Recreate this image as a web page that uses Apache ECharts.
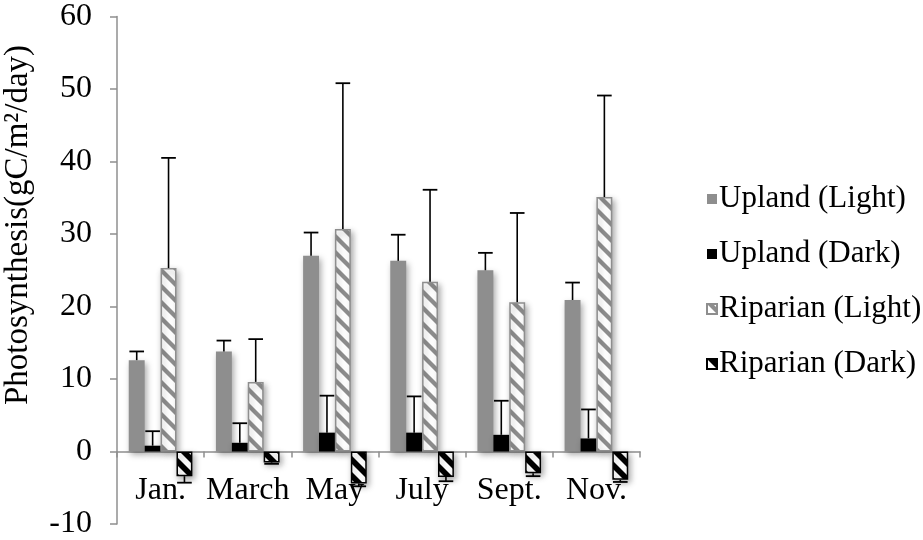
<!DOCTYPE html>
<html>
<head>
<meta charset="utf-8">
<title>Photosynthesis by month</title>
<script src="https://cdn.jsdelivr.net/npm/echarts@6/dist/echarts.min.js"></script>
<style>
  html, body { margin: 0; padding: 0; background: #fff; }
  #chart { width: 923px; height: 540px; }
</style>
</head>
<body>
<div id="chart"></div>
<script>
// Monthly photosynthesis (gC/m²/day), mean values and standard deviations
const categories = ['Jan.', 'March', 'May', 'July', 'Sept.', 'Nov.'];
const seriesNames = ['Upland (Light)', 'Upland (Dark)', 'Riparian (Light)', 'Riparian (Dark)'];

const uplandLight = [12.6, 13.8, 27.0, 26.3, 25.0, 20.9];
const uplandLightErr = [1.2, 1.5, 3.2, 3.6, 2.4, 2.4];

const uplandDark = [0.8, 1.2, 2.6, 2.6, 2.3, 1.8];
const uplandDarkErr = [2.0, 2.7, 5.1, 5.0, 4.7, 4.0];

const riparianLight = [25.3, 9.6, 30.7, 23.4, 20.6, 35.1];
const riparianLightErr = [15.2, 5.9, 20.1, 12.7, 12.3, 14.0];

const riparianDark = [-3.4, -1.5, -4.4, -3.5, -3.0, -3.9];
const riparianDarkErr = [0.9, 0.2, 0.4, 0.6, 0.4, 0.3];

const yTicks = [-10, 0, 10, 20, 30, 40, 50, 60];

const FONT = 'Liberation Serif, Times New Roman, serif';
const FONT_SIZE = 32;
const AXIS_GREY = '#8f8f8f';
const BAR_GAP_RATIO = 0.27;

// Diagonal "\" stripe tile used as a fill pattern
function stripePattern(color, bandWidth) {
  const size = 16;
  const c = document.createElement('canvas');
  c.width = size; c.height = size;
  const ctx = c.getContext('2d');
  ctx.fillStyle = '#ffffff';
  ctx.fillRect(0, 0, size, size);
  ctx.fillStyle = color;
  for (let k = -2; k <= 1; k++) {
    const x0 = k * size;
    ctx.beginPath();
    ctx.moveTo(x0, 0);
    ctx.lineTo(x0 + bandWidth, 0);
    ctx.lineTo(x0 + bandWidth + size, size);
    ctx.lineTo(x0 + size, size);
    ctx.closePath();
    ctx.fill();
  }
  return { image: c, repeat: 'repeat' };
}

const shadow = {
  shadowBlur: 6,
  shadowColor: 'rgba(0,0,0,0.35)',
  shadowOffsetX: 2,
  shadowOffsetY: 3
};

const styles = [
  Object.assign({ color: '#8e8e8e' }, shadow),
  Object.assign({ color: '#000000' }, shadow),
  Object.assign({ color: stripePattern('#8e8e8e', 6), borderColor: '#8e8e8e', borderWidth: 1.5 }, shadow),
  Object.assign({ color: stripePattern('#000000', 8), borderColor: '#000000', borderWidth: 1.5 }, shadow)
];

const values = [uplandLight, uplandDark, riparianLight, riparianDark];
const errors = [uplandLightErr, uplandDarkErr, riparianLightErr, riparianDarkErr];
const errorDirection = [1, 1, 1, -1];

function barSeries(i) {
  return {
    type: 'bar',
    name: seriesNames[i],
    data: values[i],
    barGap: '0%',
    barCategoryGap: (BAR_GAP_RATIO * 100) + '%',
    itemStyle: styles[i],
    z: 2
  };
}

// Error bars: a stem from the bar end and a cap, placed on the matching bar slot
function errorSeries(i) {
  return {
    type: 'custom',
    name: seriesNames[i] + ' SD',
    silent: true,
    z: 4,
    data: values[i].map((v, k) => [k, v, errors[i][k]]),
    encode: { x: 0, y: 1 },
    renderItem: function (params, api) {
      const cat = api.value(0);
      const v = api.value(1);
      const e = api.value(2);
      const band = api.size([1, 0])[0];
      const barW = band * (1 - BAR_GAP_RATIO) / 4;
      const base = api.coord([cat, v]);
      const tip = api.coord([cat, v + errorDirection[i] * e]);
      const x = base[0] + (i - 1.5) * barW;
      const half = barW * 0.46;
      return {
        type: 'group',
        children: [
          { type: 'line', shape: { x1: x, y1: base[1], x2: x, y2: tip[1] },
            style: { stroke: '#000', lineWidth: 1.6 } },
          { type: 'line', shape: { x1: x - half, y1: tip[1], x2: x + half, y2: tip[1] },
            style: { stroke: '#000', lineWidth: 1.8 } }
        ]
      };
    }
  };
}

const chart = echarts.init(document.getElementById('chart'), null, { renderer: 'canvas' });

chart.setOption({
  animation: false,
  backgroundColor: '#ffffff',
  grid: { left: 117, right: 283, top: 16.5, bottom: 16, containLabel: false, outerBoundsMode: 'none' },
  legend: {
    orient: 'vertical',
    left: 701,
    top: 178,
    itemWidth: 10,
    itemHeight: 10,
    itemGap: 23,
    icon: 'rect',
    data: seriesNames,
    textStyle: { fontFamily: FONT, fontSize: 31, color: '#000', lineHeight: 32, padding: [0, 0, 0, -3] }
  },
  xAxis: {
    type: 'category',
    data: categories,
    axisLine: { onZero: true, lineStyle: { color: AXIS_GREY, width: 1.5 } },
    axisTick: { show: true, length: 6, lineStyle: { color: AXIS_GREY, width: 1.5 } },
    // labels sit just under the zero line, inside the plot area
    axisLabel: { fontFamily: FONT, fontSize: FONT_SIZE, color: '#000', margin: -49, interval: 0 },
    splitLine: { show: false }
  },
  yAxis: {
    type: 'value',
    min: yTicks[0],
    max: yTicks[yTicks.length - 1],
    interval: yTicks[1] - yTicks[0],
    axisLine: { show: true, lineStyle: { color: AXIS_GREY, width: 1.5 } },
    axisTick: { show: true, length: 7, lineStyle: { color: AXIS_GREY, width: 1.5 } },
    axisLabel: { fontFamily: FONT, fontSize: FONT_SIZE, color: '#000', margin: 25 },
    splitLine: { show: false }
  },
  graphic: [{
    type: 'text',
    x: 18,
    y: 225,
    rotation: Math.PI / 2,
    style: {
      text: 'Photosynthesis(gC/m²/day)',
      font: '33px ' + FONT,
      fill: '#000',
      align: 'center',
      verticalAlign: 'middle'
    }
  }],
  series: [0, 1, 2, 3].map(barSeries).concat([0, 1, 2, 3].map(errorSeries))
});
</script>
</body>
</html>
